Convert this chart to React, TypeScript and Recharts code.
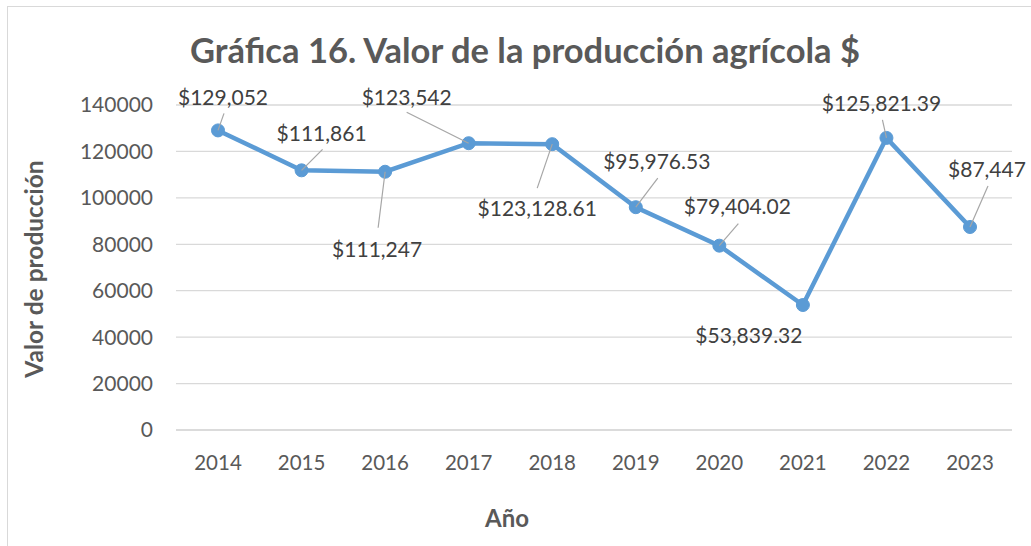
import React from 'react';
import { LineChart, Line, CartesianGrid, XAxis, YAxis, LabelList } from 'recharts';

// chart data
const years = ['2014', '2015', '2016', '2017', '2018', '2019', '2020', '2021', '2022', '2023'];
const values = [129052, 111861, 111247, 123542, 123128.61, 95976.53, 79404.02, 53839.32, 125821.39, 87447];
const valueLabels = ['$129,052', '$111,861', '$111,247', '$123,542', '$123,128.61', '$95,976.53', '$79,404.02', '$53,839.32', '$125,821.39', '$87,447'];
const yTicks = [0, 20000, 40000, 60000, 80000, 100000, 120000, 140000];

// label placement relative to each point (text center + leader line start)
const labelOffsets: { dx: number; dy: number; lead: [number, number] | null }[] = [
  { dx: 5, dy: -35, lead: [6, -17] },
  { dx: 20, dy: -39, lead: [21, -21] },
  { dx: -8, dy: 76, lead: [-7, 56] },
  { dx: -62, dy: -48, lead: [-62, -31] },
  { dx: -15, dy: 62, lead: [-15, 44] },
  { dx: 21, dy: -48, lead: [22, -29] },
  { dx: 18, dy: -41, lead: [19, -22] },
  { dx: -54, dy: 28, lead: null },
  { dx: -5, dy: -36, lead: [-4, -18] },
  { dx: 17, dy: -59, lead: [18, -41] },
];

const data = years.map((year, i) => ({ year, value: values[i], label: valueLabels[i] }));

const FONT = 'Lato, "Open Sans", sans-serif';

const PointLabel = (props: any) => {
  const { x, y, index } = props;
  const off = labelOffsets[index];
  if (!off) return null;
  return (
    <g>
      {off.lead && (
        <line x1={x + off.lead[0]} y1={y + off.lead[1]} x2={x} y2={y} stroke="#a6a6a6" strokeWidth={1.2} />
      )}
      <text
        x={x + off.dx}
        y={y + off.dy + 1}
        textAnchor="middle"
        dominantBaseline="central"
        fontFamily={FONT}
        fontSize={21}
        fill="#404040"
      >
        {valueLabels[index]}
      </text>
    </g>
  );
};

export default function App() {
  return (
    <div style={{ position: 'absolute', left: 0, top: 0, width: 1031, height: 546, overflow: 'hidden', background: '#fff' }}>
      <div style={{ position: 'absolute', left: 7, top: 6, width: 1060, height: 600, border: '1px solid #d9d9d9' }} />

      <div
        style={{
          position: 'absolute', left: 525, top: 49, transform: 'translate(-50%, -50%)',
          whiteSpace: 'nowrap', fontFamily: FONT, fontWeight: 700, fontSize: 34.5, color: '#595959',
        }}
      >
        Gráfica 16. Valor de la producción agrícola $
      </div>

      <div
        style={{
          position: 'absolute', left: 33, top: 269, transform: 'translate(-50%, -50%) rotate(-90deg)',
          whiteSpace: 'nowrap', fontFamily: FONT, fontWeight: 700, fontSize: 24.5, color: '#595959',
        }}
      >
        Valor de producción
      </div>

      <div
        style={{
          position: 'absolute', left: 507, top: 517, transform: 'translate(-50%, -50%)',
          whiteSpace: 'nowrap', fontFamily: FONT, fontWeight: 700, fontSize: 24, color: '#595959',
        }}
      >
        Año
      </div>

      <div style={{ position: 'absolute', left: 0, top: 0 }}>
        <LineChart width={1031} height={546} data={data} margin={{ top: 105, right: 19, bottom: 86, left: 116 }}>
          <CartesianGrid vertical={false} stroke="#d9d9d9" strokeWidth={1.3} />
          <XAxis
            dataKey="year"
            height={30}
            padding={{ left: 42, right: 42 }}
            tickLine={false}
            tickSize={0}
            tickMargin={25}
            axisLine={{ stroke: '#d9d9d9', strokeWidth: 1.3 }}
            tick={{ fill: '#595959', fontSize: 20.5, fontFamily: FONT }}
          />
          <YAxis
            width={60}
            domain={[0, 140000]}
            ticks={yTicks}
            axisLine={false}
            tickLine={false}
            tickSize={0}
            tickMargin={23}
            interval={0}
            tick={{ fill: '#595959', fontSize: 21, fontFamily: FONT }}
          />
          <Line
            type="linear"
            dataKey="value"
            stroke="#5b9bd5"
            strokeWidth={4.5}
            dot={{ r: 6.5, fill: '#5b9bd5', stroke: '#5b9bd5', strokeWidth: 1 }}
            activeDot={false}
            isAnimationActive={false}
          >
            <LabelList dataKey="label" content={<PointLabel />} />
          </Line>
        </LineChart>
      </div>
    </div>
  );
}
